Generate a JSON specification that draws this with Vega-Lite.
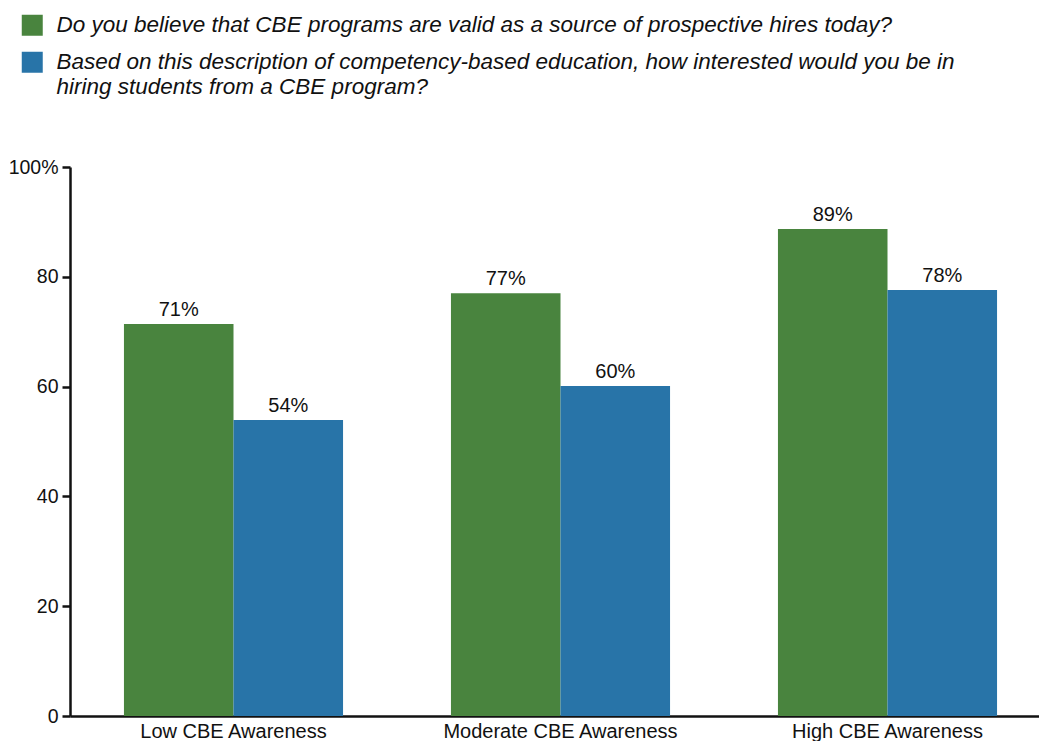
{
  "$schema": "https://vega.github.io/schema/vega-lite/v6.json",
  "width": 969,
  "height": 549,
  "autosize": {"type": "none"},
  "padding": {"left": 70, "top": 167, "right": 0, "bottom": 25},
  "background": "white",
  "config": {
    "view": {"stroke": null},
    "font": "Liberation Sans",
    "text": {"font": "Liberation Sans"}
  },
  "data": {
    "values": [
      {"group": "Low CBE Awareness", "q": "Do you believe that CBE programs are valid as a source of prospective hires today?", "value": 71.4, "label": "71%"},
      {"group": "Low CBE Awareness", "q": "Based on this description of competency-based education, how interested would you be in hiring students from a CBE program?", "value": 53.9, "label": "54%"},
      {"group": "Moderate CBE Awareness", "q": "Do you believe that CBE programs are valid as a source of prospective hires today?", "value": 77.0, "label": "77%"},
      {"group": "Moderate CBE Awareness", "q": "Based on this description of competency-based education, how interested would you be in hiring students from a CBE program?", "value": 60.1, "label": "60%"},
      {"group": "High CBE Awareness", "q": "Do you believe that CBE programs are valid as a source of prospective hires today?", "value": 88.7, "label": "89%"},
      {"group": "High CBE Awareness", "q": "Based on this description of competency-based education, how interested would you be in hiring students from a CBE program?", "value": 77.6, "label": "78%"}
    ]
  },
  "encoding": {
    "x": {
      "field": "group",
      "type": "nominal",
      "sort": ["Low CBE Awareness", "Moderate CBE Awareness", "High CBE Awareness"],
      "scale": {"range": [0, 981], "paddingInner": 0.33, "paddingOuter": 0.165},
      "axis": {
        "title": null,
        "labelAngle": 0,
        "ticks": false,
        "domainColor": "#111111",
        "domainWidth": 2.5,
        "labelFontSize": 20,
        "labelColor": "#111111",
        "labelPadding": 5,
        "labelLimit": 400,
        "labelFont": "Liberation Sans"
      }
    },
    "xOffset": {
      "field": "q",
      "type": "nominal",
      "sort": [
        "Do you believe that CBE programs are valid as a source of prospective hires today?",
        "Based on this description of competency-based education, how interested would you be in hiring students from a CBE program?"
      ],
      "scale": {"paddingInner": 0, "paddingOuter": 0}
    },
    "y": {
      "field": "value",
      "type": "quantitative",
      "scale": {"domain": [0, 100], "nice": false},
      "axis": {
        "title": null,
        "values": [0, 20, 40, 60, 80, 100],
        "labelExpr": "datum.value == 100 ? '100%' : datum.label",
        "grid": false,
        "domainColor": "#111111",
        "domainWidth": 2.5,
        "tickColor": "#111111",
        "tickWidth": 2.5,
        "tickSize": 8,
        "labelFontSize": 19.5,
        "labelColor": "#111111",
        "labelPadding": 4,
        "labelFont": "Liberation Sans"
      }
    }
  },
  "layer": [
    {
      "mark": {"type": "bar"},
      "encoding": {
        "color": {
          "field": "q",
          "type": "nominal",
          "sort": [
            "Do you believe that CBE programs are valid as a source of prospective hires today?",
            "Based on this description of competency-based education, how interested would you be in hiring students from a CBE program?"
          ],
          "scale": {"range": ["#49843E", "#2874A8"]},
          "legend": {
            "title": null,
            "orient": "none",
            "legendX": -49,
            "legendY": -153,
            "padding": 0,
            "symbolType": "square",
            "symbolSize": 441,
            "symbolStrokeWidth": 0,
            "symbolOpacity": 1,
            "labelFont": "Liberation Sans",
            "labelFontStyle": "italic",
            "labelFontSize": 22.5,
            "labelLineHeight": 27,
            "labelColor": "#111111",
            "labelOffset": 13,
            "labelLimit": 1000,
            "rowPadding": 14,
            "labelExpr": "datum.label == 'Based on this description of competency-based education, how interested would you be in hiring students from a CBE program?' ? ['Based on this description of competency-based education, how interested would you be in', 'hiring students from a CBE program?'] : datum.label"
          }
        }
      }
    },
    {
      "mark": {"type": "text", "baseline": "alphabetic", "dy": -8, "fontSize": 20, "color": "#111111", "font": "Liberation Sans"},
      "encoding": {"text": {"field": "label"}}
    }
  ]
}
